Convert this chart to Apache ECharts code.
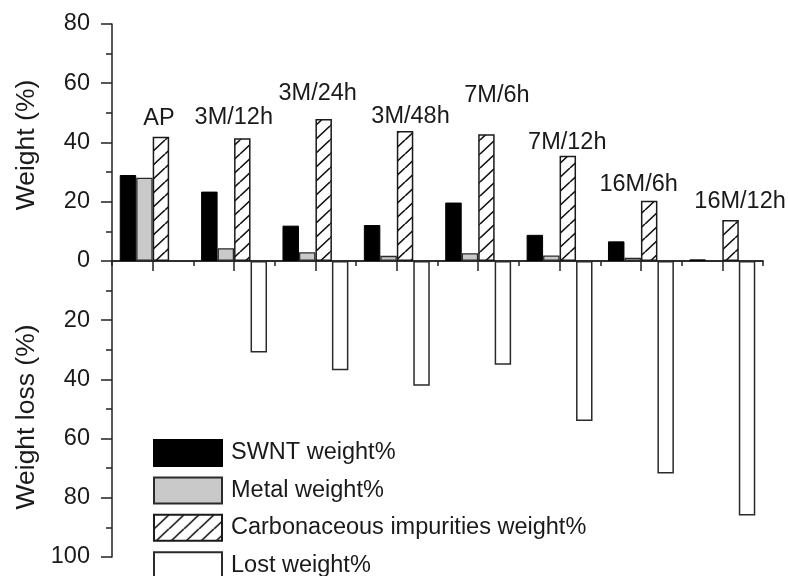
<!DOCTYPE html>
<html>
<head>
<meta charset="utf-8">
<script src="https://cdn.jsdelivr.net/npm/echarts@6/dist/echarts.min.js"></script>
<style>
html,body{margin:0;padding:0;background:#fff;}
#chart{width:788px;height:576px;}
</style>
</head>
<body>
<div id="chart"></div>
<script>
// ---- data ----
const categories = ['AP', '3M/12h', '3M/24h', '3M/48h', '7M/6h', '7M/12h', '16M/6h', '16M/12h'];
const swntWeight = [29.0, 23.4, 11.9, 12.1, 19.7, 8.8, 6.6, 0.5];
const metalWeight = [28.1, 4.3, 2.9, 1.7, 2.6, 1.8, 1.1, 0];
const carbonWeight = [41.9, 41.4, 47.9, 43.9, 42.8, 35.5, 20.3, 13.8];
const lostWeight = [null, 30.9, 36.9, 42.2, 35.1, 54.1, 71.8, 86.0];
const seriesNames = ['SWNT weight%', 'Metal weight%', 'Carbonaceous impurities weight%', 'Lost weight%'];
const yTicks = [-100, -80, -60, -40, -20, 0, 20, 40, 60, 80];

// ---- layout of the group labels (pixel offsets relative to bar top) ----
const labelDx = [-2, -8.5, -6, 5.5, 10.5, -0.5, -10.5, 9.5];
const labelDy = [-6.4, -8.3, -13.8, -2.2, -26.5, -1.1, -4.6, -6.4];

// hatch pattern
const TW = 15, TH = 14;
const tile = document.createElement('canvas');
tile.width = TW; tile.height = TH;
const ctx = tile.getContext('2d');
ctx.fillStyle = '#fff';
ctx.fillRect(0, 0, TW, TH);
ctx.strokeStyle = '#111';
ctx.lineWidth = 1.6;
ctx.beginPath();
ctx.moveTo(-TW, TH); ctx.lineTo(0, 0);
ctx.moveTo(0, TH); ctx.lineTo(TW, 0);
ctx.moveTo(TW, TH); ctx.lineTo(2 * TW, 0);
ctx.stroke();
const hatch = { image: tile, repeat: 'repeat' };

const FONT = '"Liberation Sans", Arial, Helvetica, sans-serif';
const TXT = '#1a1a1a';
const AX = '#222';

const chart = echarts.init(document.getElementById('chart'), null, { renderer: 'canvas' });
chart.setOption({
  animation: false,
  backgroundColor: '#fff',
  textStyle: { fontFamily: FONT },
  grid: { left: 112, right: 25, top: 24, bottom: 19, containLabel: false },
  legend: {
    orient: 'vertical',
    left: 153, top: 439, height: 200,
    itemWidth: 68, itemHeight: 26, itemGap: 9.4,
    icon: 'rect',
    padding: 0,
    data: seriesNames,
    textStyle: { fontSize: 23.5, color: TXT, fontFamily: FONT, padding: [0, 0, 0, 4], lineHeight: 26 },
    selectedMode: false
  },
  xAxis: [
    {
      type: 'category',
      data: categories,
      boundaryGap: true,
      axisLine: { onZero: true, onZeroAxisIndex: 0, lineStyle: { color: AX, width: 1.5 } },
      axisTick: { show: true, alignWithLabel: true, interval: 0, length: 10, lineStyle: { color: AX, width: 1.5 } },
      axisLabel: { show: false },
      splitLine: { show: false }
    },
    {
      type: 'category',
      data: categories,
      position: 'bottom',
      boundaryGap: true,
      axisLine: { show: true, onZero: true, onZeroAxisIndex: 1, lineStyle: { color: AX, width: 1.5 } },
      axisTick: { show: true, interval: 0, length: 5, lineStyle: { color: AX, width: 1.5 } },
      axisLabel: { show: false },
      splitLine: { show: false }
    }
  ],
  yAxis: [
    {
      type: 'value',
      min: -100, max: 80, interval: 20,
      axisLine: { show: true, onZero: false, lineStyle: { color: AX, width: 1.5 } },
      axisTick: { show: true, length: 11, lineStyle: { color: AX, width: 1.5 } },
      minorTick: { show: true, splitNumber: 2, length: 6, lineStyle: { color: AX, width: 1.5 } },
      splitLine: { show: false },
      axisLabel: {
        fontSize: 23.5, color: TXT, margin: 22, fontFamily: FONT,
        formatter: v => yTicks.includes(v) ? String(Math.abs(v)) : ''
      }
    },
    {
      type: 'value',
      min: -100, max: 80, interval: 20,
      show: false,
      axisLine: { show: false, onZero: false },
      splitLine: { show: false }
    }
  ],
  graphic: [
    { type: 'text', x: 27, y: 145, rotation: Math.PI / 2,
      style: { text: 'Weight (%)', fontSize: 26.5, fontFamily: FONT, fill: TXT, textAlign: 'center', textVerticalAlign: 'middle' } },
    { type: 'text', x: 27, y: 417, rotation: Math.PI / 2,
      style: { text: 'Weight loss (%)', fontSize: 26.5, fontFamily: FONT, fill: TXT, textAlign: 'center', textVerticalAlign: 'middle' } }
  ],
  series: [
    {
      name: seriesNames[0], type: 'bar', data: swntWeight,
      barGap: '0%', barCategoryGap: '19%',
      itemStyle: { color: '#000', borderColor: '#000', borderWidth: 1 }
    },
    {
      name: seriesNames[1], type: 'bar', data: metalWeight,
      barGap: '0%', barCategoryGap: '19%',
      itemStyle: { color: '#c9c9c9', borderColor: '#2a2a2a', borderWidth: 1.3 }
    },
    {
      name: seriesNames[2], type: 'bar',
      data: carbonWeight.map((v, i) => ({ value: v, label: { offset: [labelDx[i], labelDy[i]] } })),
      barGap: '0%', barCategoryGap: '19%',
      itemStyle: { color: hatch, borderColor: '#1a1a1a', borderWidth: 1.5 },
      label: {
        show: true, position: 'top', distance: 0,
        fontSize: 23.5, lineHeight: 24, color: TXT, fontFamily: FONT,
        formatter: p => categories[p.dataIndex]
      }
    },
    {
      name: seriesNames[3], type: 'bar',
      data: lostWeight.map(v => v == null ? null : -v),
      barGap: '0%', barCategoryGap: '19%',
      itemStyle: { color: '#fff', borderColor: '#2a2a2a', borderWidth: 1.5 }
    }
  ]
});
</script>
</body>
</html>
